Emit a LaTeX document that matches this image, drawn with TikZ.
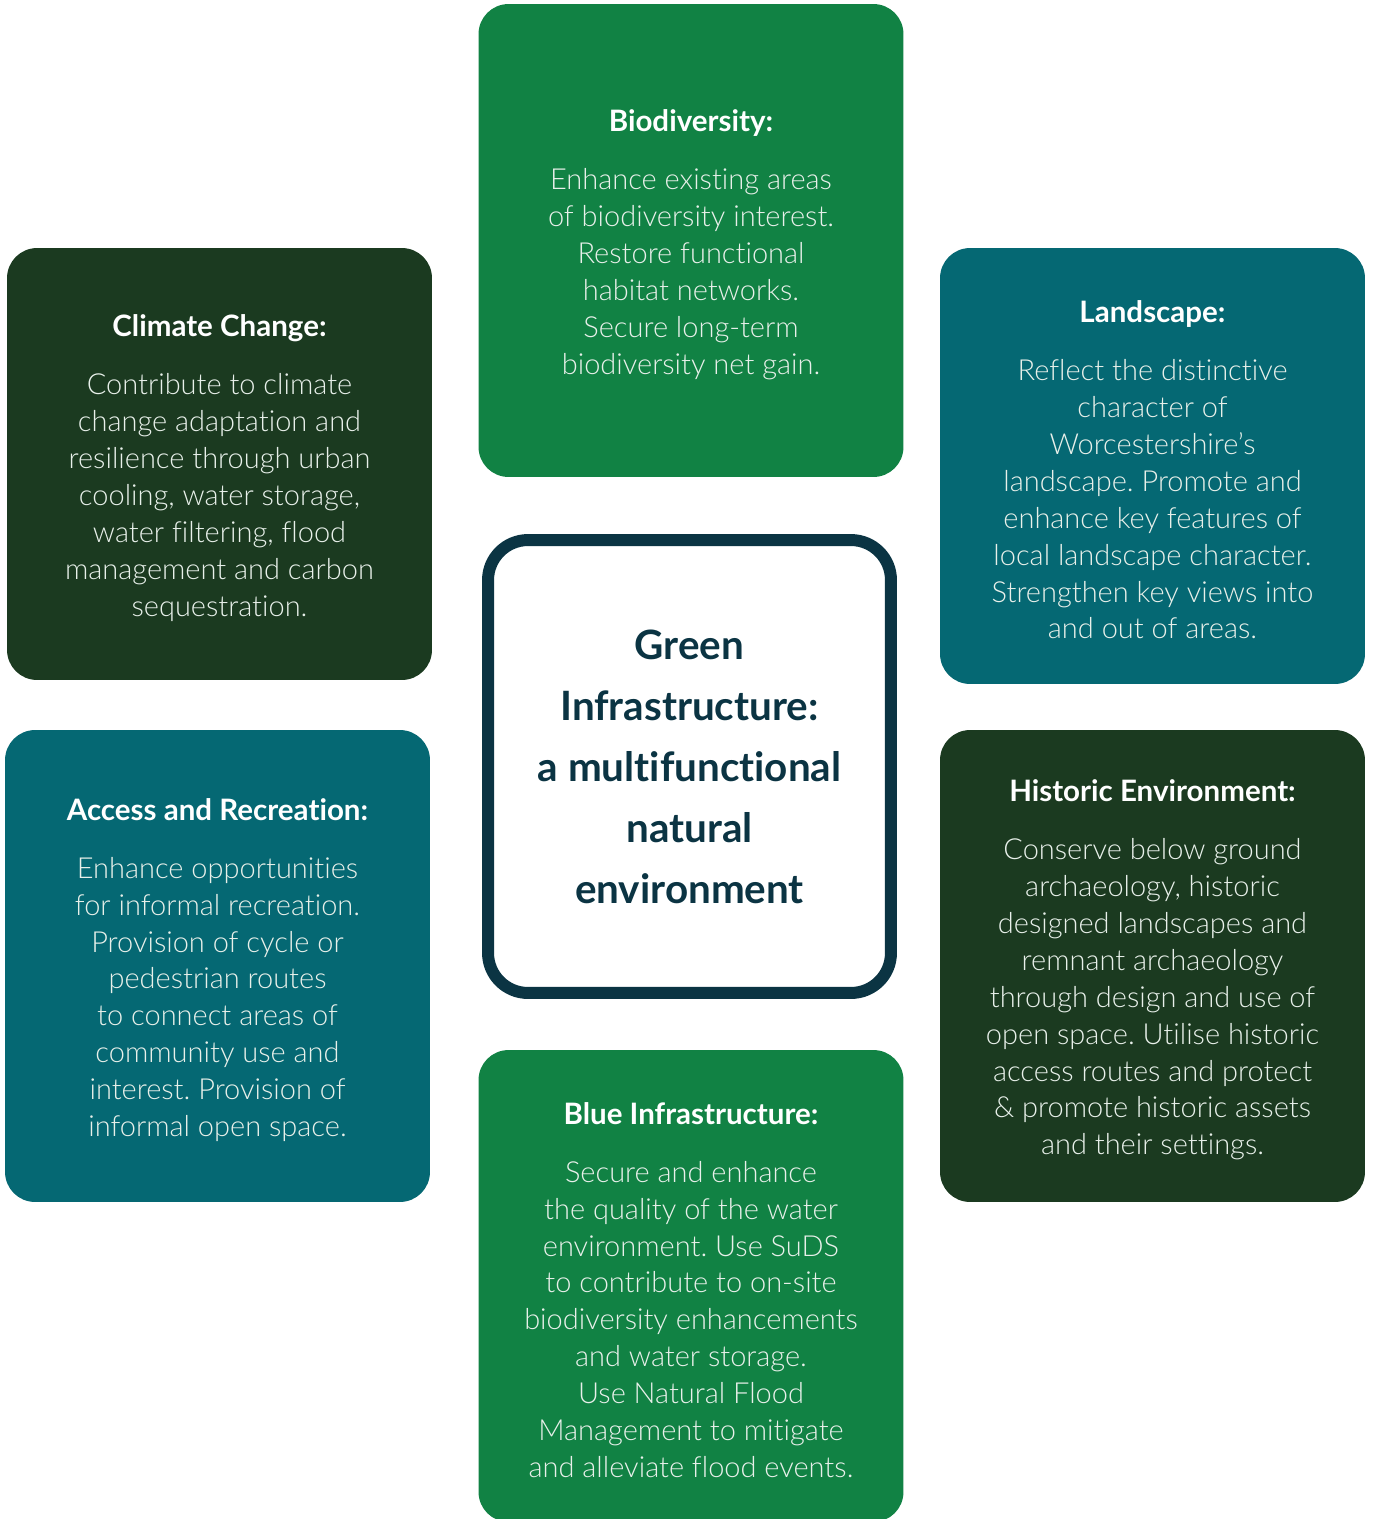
\documentclass[tikz,border=0pt]{standalone}
\usepackage{fontspec}
\setmainfont[Ligatures=NoCommon]{Lato}
\newfontfamily\lightfont[Ligatures=NoCommon]{Lato Light}
\usepackage{xcolor}

\definecolor{midgreen}{HTML}{118244}
\definecolor{darkgreen}{HTML}{1B3A20}
\definecolor{teal}{HTML}{056873}
\definecolor{navy}{HTML}{0B3443}
\definecolor{bodytext}{HTML}{E8F0EA}

\newcommand{\tilehead}[1]{\rule{0pt}{0.6cm}{\normalfont\bfseries\fontsize{16.8}{21}\selectfont\color{white}#1}\\[0.42cm]}

\begin{document}
\frenchspacing
\begin{tikzpicture}[x=0.02cm,y=-0.02cm,
  tile/.style={rounded corners=0.6cm, minimum width=8.5cm, inner sep=0pt,
    align=center, text=bodytext, font=\lightfont\fontsize{16.5}{21}\selectfont},
  hub/.style={draw=navy, line width=0.24cm, rounded corners=0.8cm, fill=white,
    minimum width=8.06cm, minimum height=9.06cm, align=center, text=navy,
    font=\bfseries\fontsize{23}{34.7}\selectfont}]
  \useasboundingbox (0,0) rectangle (1373,1519);

  \node[tile, fill=midgreen, minimum height=9.46cm] (bio) at (691,240.5)
    {\tilehead{Biodiversity:}Enhance existing areas\\of biodiversity interest.\\Restore functional\\habitat networks.\\Secure long-term\\biodiversity net gain.};
  \node[tile, fill=darkgreen, minimum height=8.64cm] (climate) at (219.5,464)
    {\tilehead{Climate Change:}Contribute to climate\\change adaptation and\\resilience through urban\\cooling, water storage,\\water filtering, flood\\management and carbon\\sequestration.};
  \node[tile, fill=teal, minimum height=8.72cm] (land) at (1152.5,466)
    {\tilehead{Landscape:}Reflect the distinctive\\character of\\Worcestershire’s\\landscape. Promote and\\enhance key features of\\local landscape character.\\Strengthen key views into\\and out of areas.};
  \node[tile, fill=teal, minimum height=9.44cm] (access) at (217.5,966)
    {\tilehead{Access and Recreation:}Enhance opportunities\\for informal recreation.\\Provision of cycle or\\pedestrian routes\\to connect areas of\\community use and\\interest. Provision of\\informal open space.};
  \node[tile, fill=darkgreen, minimum height=9.44cm] (historic) at (1152.5,966)
    {\tilehead{Historic Environment:}Conserve below ground\\archaeology, historic\\designed landscapes and\\remnant archaeology\\through design and use of\\open space. Utilise historic\\access routes and protect\\\& promote historic assets\\and their settings.};
  \node[tile, fill=midgreen, minimum height=9.44cm] (blue) at (691,1286)
    {\tilehead{Blue Infrastructure:}Secure and enhance\\the quality of the water\\environment. Use SuDS\\to contribute to on-site\\biodiversity enhancements\\and water storage.\\Use Natural Flood\\Management to mitigate\\and alleviate flood events.};

  \node[hub] (gi) at (689.5,766.5)
    {Green\\Infrastructure:\\a multifunctional\\natural\\environment};
\end{tikzpicture}
\end{document}
